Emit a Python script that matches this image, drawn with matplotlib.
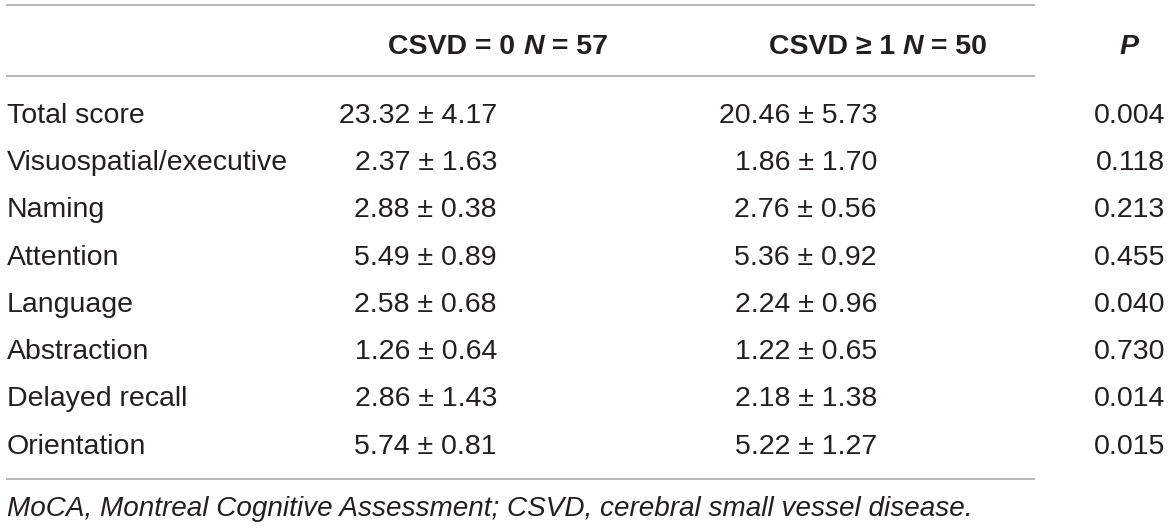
import matplotlib
matplotlib.use("Agg")
import matplotlib.pyplot as plt

# table contents
measures = ["Total score", "Visuospatial/executive", "Naming", "Attention",
            "Language", "Abstraction", "Delayed recall", "Orientation"]
csvd0 = ["23.32 ± 4.17", "2.37 ± 1.63", "2.88 ± 0.38", "5.49 ± 0.89",
         "2.58 ± 0.68", "1.26 ± 0.64", "2.86 ± 1.43", "5.74 ± 0.81"]
csvd1 = ["20.46 ± 5.73", "1.86 ± 1.70", "2.76 ± 0.56", "5.36 ± 0.92",
         "2.24 ± 0.96", "1.22 ± 0.65", "2.18 ± 1.38", "5.22 ± 1.27"]
p_values = ["0.004", "0.118", "0.213", "0.455", "0.040", "0.730", "0.014", "0.015"]

header1 = [("CSVD = 0 ", "normal"), ("N", "italic"), (" = 57", "normal")]
header2 = [("CSVD ≥ 1 ", "normal"), ("N", "italic"), (" = 50", "normal")]
footnote = "MoCA, Montreal Cognitive Assessment; CSVD, cerebral small vessel disease."

W, H = 1171, 528
TXT = "#231f20"
RULE = "#a3a3a3"
FS = 20.5
FAMILY = ["Liberation Sans", "DejaVu Sans"]

fig = plt.figure(figsize=(W / 100, H / 100), dpi=100)
ax = fig.add_axes([0, 0, 1, 1])
ax.set_xlim(0, W)
ax.set_ylim(H, 0)
ax.axis("off")
renderer = fig.canvas.get_renderer()


def put(x, yc, s, **kw):
    # yc is the vertical centre of capital letters
    kw.setdefault("fontsize", FS)
    kw.setdefault("family", FAMILY)
    kw.setdefault("color", TXT)
    return ax.text(x, yc + kw["fontsize"] * 100 / 72 * 0.716 / 2, s,
                   va="baseline", **kw)


def put_pieces(xc, yc, pieces):
    # bold header made of upright/italic parts, centred on xc
    arts = []
    x = 0
    for s, style in pieces:
        t = put(x, yc, s, weight="bold", style=style, ha="left")
        x += t.get_window_extent(renderer).width
        arts.append(t)
    shift = xc - x / 2
    for t in arts:
        t.set_x(t.get_position()[0] + shift)


# rules
for y in (5, 76, 479):
    ax.plot([6, 1035], [y, y], color=RULE, lw=1.1, solid_capstyle="butt")

# header
hy = 44
put_pieces(498, hy, header1)
put_pieces(878, hy, header2)
put(1129, hy, "P", weight="bold", style="italic", ha="center")

# body
y0, dy = 112.5, 47.3
for i in range(len(measures)):
    y = y0 + i * dy
    put(7, y, measures[i], ha="left")
    put(497, y, csvd0[i], ha="right")
    put(877, y, csvd1[i], ha="right")
    put(1165, y, p_values[i], ha="right")

put(7, 506, footnote, ha="left", style="italic", fontsize=20.05)

fig.savefig("out.png", dpi=100)
